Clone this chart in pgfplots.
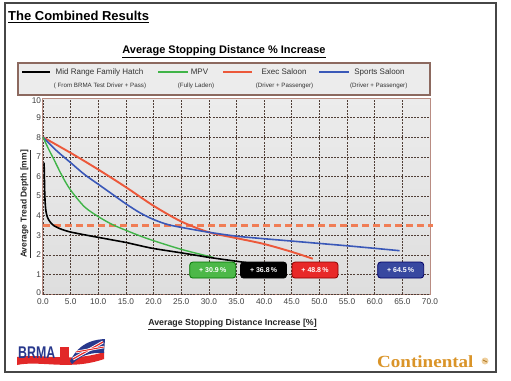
\documentclass[border=0pt]{standalone}
\usepackage{fontspec}
\setmainfont{Liberation Sans}
\newfontfamily\serifbold{Liberation Serif}
\usepackage{pgfplots}
\usepackage{pgfplotstable}
\pgfplotsset{compat=1.18}
\definecolor{cred}{RGB}{236,88,58}
\definecolor{cblue}{RGB}{58,88,184}
\definecolor{cgreen}{RGB}{64,180,72}
\definecolor{cdash}{RGB}{240,125,85}
\definecolor{gridc}{RGB}{80,62,54}
\definecolor{framec}{RGB}{185,140,130}
\definecolor{legframe}{RGB}{140,105,95}
\definecolor{legfill}{RGB}{236,236,236}
\definecolor{boxgreen}{RGB}{76,184,72}
\definecolor{boxred}{RGB}{232,40,40}
\definecolor{boxblue}{RGB}{56,72,160}
\definecolor{brmablue}{RGB}{40,56,140}
\definecolor{brmared}{RGB}{226,40,40}
\definecolor{contiorange}{RGB}{218,148,40}
\definecolor{outerc}{RGB}{70,70,70}
\tikzset{boxst/.style={rounded corners=3pt, minimum width=46pt, minimum height=16pt, inner sep=0, text=white, font=\fontsize{7}{8}\selectfont\bfseries, line width=0.8pt}}

\pgfplotstableread{
x y
0.2 6.7
0.25 6.0
0.3 5.3
0.38 4.7
0.5 4.3
0.7 4.0
1.0 3.8
1.5 3.6
2.0 3.48
3.0 3.34
4.0 3.24
5.0 3.16
7.5 3.02
10 2.89
12.5 2.76
15 2.63
17.5 2.47
20 2.32
25 2.10
30 1.87
35 1.67
36.8 1.60
}\hatchdata

\pgfplotstableread{
x y
0 8
1 7.4
2 6.85
3.5 6.0
5 5.3
7.5 4.45
10 3.95
12.5 3.55
15 3.25
17.5 2.97
20 2.72
25 2.28
30 1.92
30.9 1.86
}\mpvdata

\pgfplotstableread{
x y
0 8
5 7.2
10 6.35
15 5.45
20 4.5
25 3.7
30 3.15
35 2.85
40 2.55
45 2.15
48.8 1.8
}\execdata

\pgfplotstableread{
x y
0 8
2.5 7.3
5 6.7
7.5 6.1
10 5.6
12.5 5.1
15 4.6
17.5 4.15
20 3.8
22.5 3.55
25 3.4
30 3.15
35 2.95
40 2.82
45 2.7
50 2.58
55 2.46
60 2.33
64.5 2.21
}\sportsdata

\begin{document}
\begin{tikzpicture}
\useasboundingbox (0,0) rectangle (511pt,-380pt);
\fill[white] (0,0) rectangle (511pt,-380pt);
\draw[outerc, line width=1.3pt] (5pt,-3pt) rectangle (496pt,-372pt);

\node[anchor=base west, inner sep=0, font=\fontsize{13}{15}\selectfont\bfseries] at (8pt,-20.5pt) {\underline{The Combined Results}};
\node[anchor=base, inner sep=0, font=\fontsize{11}{13}\selectfont\bfseries] at (224pt,-53pt) {\underline{Average Stopping Distance \% Increase}};

% legend
\draw[legframe, fill=legfill, line width=1.2pt] (18pt,-63pt) rectangle (430pt,-95pt);
\draw[black, line width=2pt] (22pt,-71.7pt) -- (50pt,-71.7pt);
\draw[cgreen, line width=2pt] (158pt,-71.7pt) -- (188pt,-71.7pt);
\draw[cred, line width=2.4pt] (223pt,-71.7pt) -- (252pt,-71.7pt);
\draw[cblue, line width=2pt] (319pt,-71.7pt) -- (349pt,-71.7pt);
\begin{scope}[every node/.style={anchor=base, inner sep=0, text=black!80}]
\node[font=\fontsize{8}{9}\selectfont] at (99.5pt,-74.5pt) {Mid Range Family Hatch};
\node[font=\fontsize{8}{9}\selectfont] at (199.5pt,-74.5pt) {MPV};
\node[font=\fontsize{8}{9}\selectfont] at (284pt,-74.5pt) {Exec Saloon};
\node[font=\fontsize{8}{9}\selectfont] at (379.5pt,-74.5pt) {Sports Saloon};
\node[font=\fontsize{6.2}{7}\selectfont] at (100pt,-87pt) {( From BRMA Test Driver + Pass)};
\node[font=\fontsize{6.2}{7}\selectfont] at (196pt,-87pt) {(Fully Laden)};
\node[font=\fontsize{6.2}{7}\selectfont] at (284.5pt,-87pt) {(Driver + Passenger)};
\node[font=\fontsize{6.2}{7}\selectfont] at (378.7pt,-87pt) {(Driver + Passenger)};
\end{scope}

\begin{axis}[
  at={(43pt,-294pt)}, anchor=south west,
  scale only axis, width=387pt, height=196pt,
  xmin=0, xmax=70, ymin=0, ymax=10,
  xtick={0,5,...,70}, ytick={1,...,9},
  extra y ticks={0}, extra y tick style={yticklabel style={yshift=1.6pt}},
  /pgf/number format/assume math mode=true,
  xticklabel style={/pgf/number format/fixed, /pgf/number format/fixed zerofill, /pgf/number format/precision=1, yshift=-1.2pt},
  yticklabel style={inner sep=1.8pt},
  ticklabel style={font=\fontsize{8.3}{9}\selectfont, text=black!75},
  major tick length=0pt,
  grid=major,
  major grid style={gridc, line width=0.6pt, dash pattern=on 2pt off 1.2pt},
  axis line style={framec, line width=1pt},
  axis background/.style={top color={rgb,255:red,236;green,236;blue,236}, middle color={rgb,255:red,244;green,244;blue,244}, bottom color={rgb,255:red,222;green,222;blue,222}},
  clip=false,
]
\addplot[cdash, line width=2.2pt, dash pattern=on 7pt off 4pt] coordinates {(0,3.5) (70.6,3.5)};
\addplot[cred, line width=1.9pt, smooth] table[x=x,y=y] {\execdata};
\addplot[cblue, line width=1.6pt, smooth] table[x=x,y=y] {\sportsdata};
\addplot[cgreen, line width=1.4pt, smooth] table[x=x,y=y] {\mpvdata};
\addplot[black, line width=1.6pt, smooth, tension=0.4] table[x=x,y=y] {\hatchdata};
\node[boxst, fill=boxgreen, draw=green!45!black] at (axis cs:30.7,1.22) {+ 30.9\,\%};
\node[boxst, fill=black, draw=black] at (axis cs:39.9,1.22) {+ 36.8\,\%};
\node[boxst, fill=boxred, draw=red!55!black] at (axis cs:49.2,1.22) {+ 48.8\,\%};
\node[boxst, fill=boxblue, draw=blue!40!black] at (axis cs:64.7,1.22) {+ 64.5\,\%};
\node[anchor=east, inner sep=1.8pt, font=\fontsize{8.3}{9}\selectfont, text=black!75] at (axis cs:0,9.88) {10};
\end{axis}

\node[anchor=base, rotate=90, inner sep=0, font=\fontsize{8.5}{10}\selectfont\bfseries, text=black!85] at (26.5pt,-204pt) {\underline{Average Tread Depth [mm]}};
\node[anchor=base, inner sep=0, font=\fontsize{8.8}{10}\selectfont\bfseries, text=black!85] at (232.5pt,-325.5pt) {\underline{Average Stopping Distance Increase [\%]}};

% BRMA logo
\fill[brmared] (17pt,-357pt) .. controls (40pt,-353pt) and (70pt,-363pt) .. (104pt,-352pt) -- (104pt,-359pt) .. controls (70pt,-371pt) and (40pt,-360pt) .. (17pt,-365pt) -- cycle;
\fill[brmared] (60pt,-347pt) rectangle (69pt,-362pt);
\fill[brmablue] (70pt,-361pt) .. controls (76pt,-350pt) and (84pt,-340pt) .. (105pt,-339pt) -- (104pt,-353pt) .. controls (90pt,-352pt) and (80pt,-356pt) .. (72pt,-364pt) -- cycle;
\draw[white, line width=3pt] (73pt,-359pt) -- (103pt,-342pt);
\draw[brmared, line width=1.2pt] (73pt,-359pt) -- (103pt,-342pt);
\draw[white, line width=2.5pt] (76pt,-352pt) -- (104pt,-347pt);
\draw[brmared, line width=1pt] (76pt,-352pt) -- (104pt,-347pt);
\node[anchor=base west, inner sep=0, text=brmablue, font=\fontsize{13}{15}\selectfont\bfseries, yscale=1.3, xscale=0.95] at (18pt,-358pt) {BRMA};

% Continental logo
\node[anchor=base west, inner sep=0, text=contiorange, font=\serifbold\fontsize{17}{19}\selectfont\bfseries, xscale=1.12] at (377pt,-367pt) {Continental};
\fill[contiorange!45] (485pt,-361pt) circle (3.5pt);
\draw[contiorange!80!black, line width=0.8pt] (483pt,-360pt) -- (487pt,-362pt);
\end{tikzpicture}
\end{document}
